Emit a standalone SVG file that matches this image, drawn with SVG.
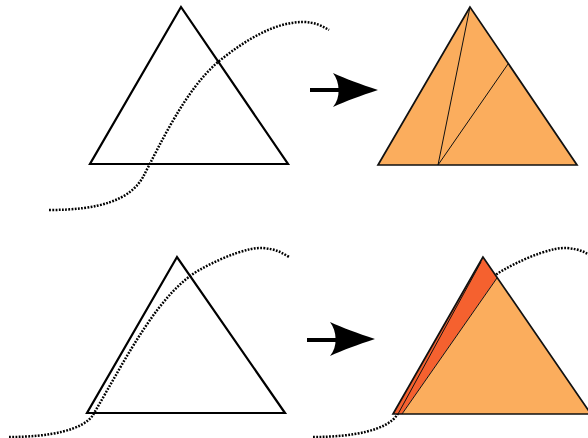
<svg xmlns="http://www.w3.org/2000/svg" width="588" height="438" viewBox="0 0 588 438">
<style>
.tri{fill:none;stroke:#000;stroke-width:2.2;stroke-linejoin:miter}
.otri{fill:#FBAD5D;stroke:#111;stroke-width:1.7}
.red{fill:#F5612F;stroke:none}
.thin{fill:none;stroke:#111;stroke-width:1}
.dot{fill:none;stroke:#000;stroke-width:2.5;stroke-dasharray:1.8 1.4}
.shaft{stroke:#000;stroke-width:4}
</style>
<rect width="588" height="438" fill="#fff"/>
<g id="top-left">
<polygon class="tri" points="181,7 90,164 288,164"/>
</g>
<g id="top-right">
<polygon class="otri" points="470,7 378,165 577,165"/>
<polyline class="thin" points="470,7 438,165 508,64"/>
</g>
<g id="bottom-left">
<polygon class="tri" points="177,257 87,413 285,413"/>
</g>
<g id="bottom-right">
<path class="dot" d="M313,437 C354,437 387,430 397,415 C432,355 464,290 507,268 C529,256 554,247 567,248 C579,249 585,252 593,257"/>
<polygon class="red" points="483,257 497,278 402,414 393,414"/>
<polygon fill="#FBAD5D" points="497,278 591,414 402,414"/>
<polyline class="thin" points="497,278 402,414"/>
<polyline class="thin" points="481,262 398,414"/>
<polygon fill="none" stroke="#111" stroke-width="1.7" points="483,257 393,414 591,414"/>
</g>
<g id="connectors">
<path class="dot" d="M49,210 C100,210 130,200 143,177 C160,145 185,90 218,62 C245,40 275,22 303,22 C315,22 322,26 329,30"/>
<path class="dot" d="M9,437 C50,437 83,430 93,415 C128,355 160,290 203,268 C225,256 250,247 263,248 C275,249 281,252 289,257"/>
<line class="shaft" x1="310" y1="90" x2="342" y2="90"/>
<path d="M378,90 C360,84 346,79 333,73 C340,82 341,98 333,107 C346,101 360,96 378,90 Z" fill="#000"/>
<line class="shaft" x1="307" y1="340" x2="339" y2="340"/>
<path d="M375,339 C357,333 343,328 330,322 C337,331 338,347 330,356 C343,350 357,345 375,339 Z" fill="#000"/>
</g>
</svg>
